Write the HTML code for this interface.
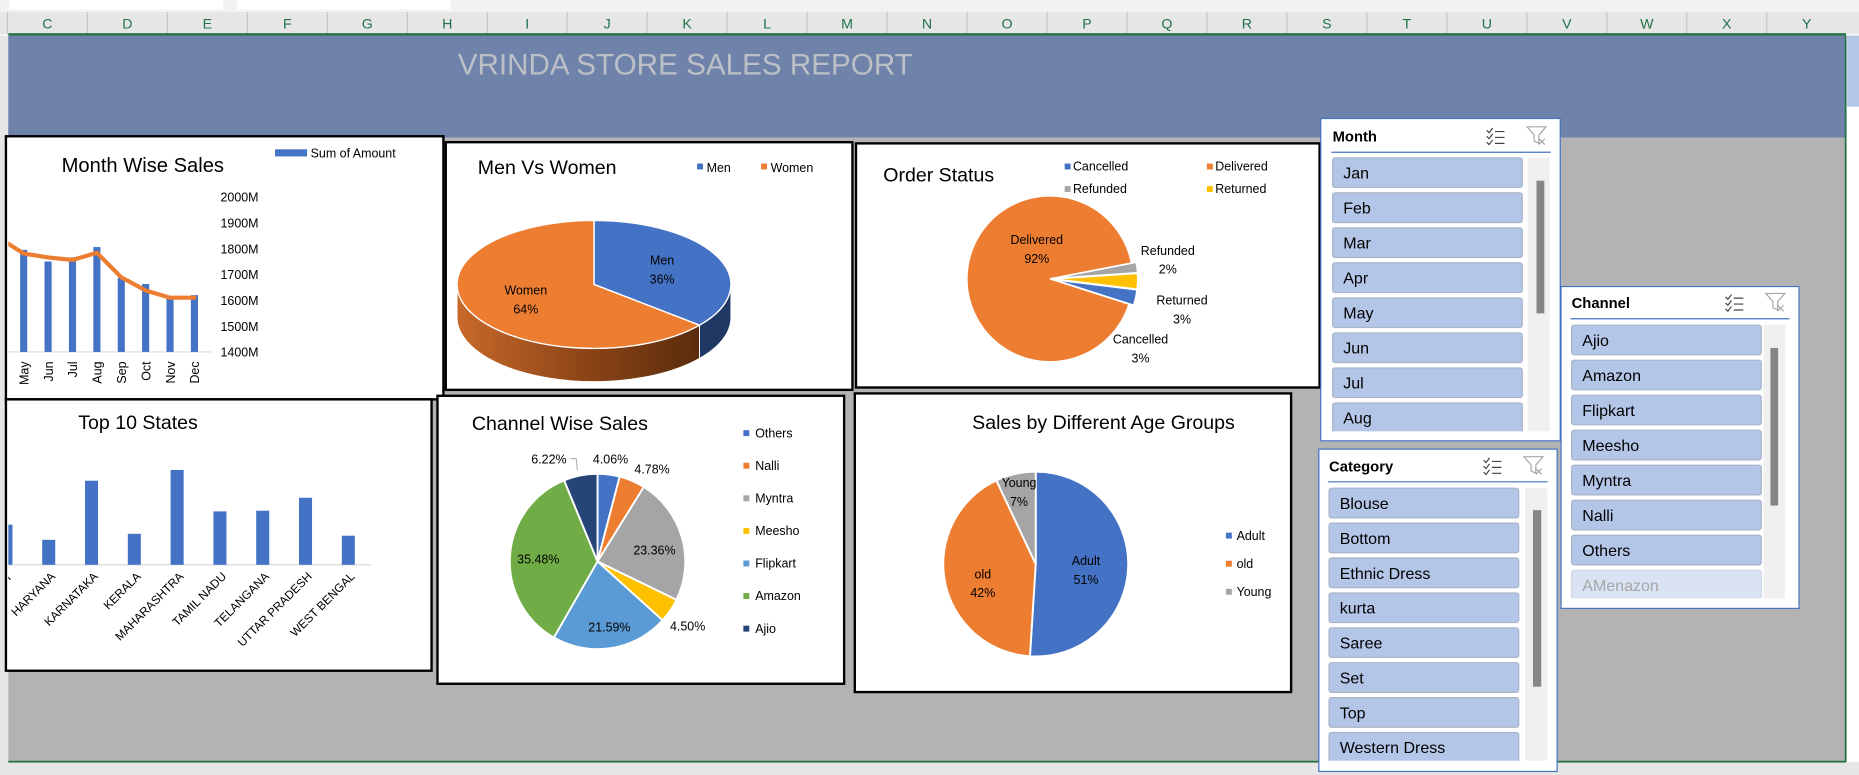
<!DOCTYPE html>
<html><head><meta charset="utf-8"><title>Vrinda Store Sales Report</title>
<style>
html,body{margin:0;padding:0;background:#fff;overflow:hidden}
svg{display:block}
text{font-family:"Liberation Sans",sans-serif}
</style></head>
<body>
<svg id="root" width="1859" height="775" viewBox="0 0 1568 654" preserveAspectRatio="none" xmlns="http://www.w3.org/2000/svg">
<defs>
<linearGradient id="womenSide" x1="0" x2="1" y1="0" y2="0">
<stop offset="0" stop-color="#c8692a"/><stop offset="0.55" stop-color="#8a4316"/><stop offset="1" stop-color="#5a2c0c"/>
</linearGradient>
<clipPath id="clipMonth"><rect x="7" y="117" width="366" height="219"/></clipPath>
<clipPath id="clipStates"><rect x="7" y="339" width="356" height="226"/></clipPath>
<clipPath id="clipSlMonth"><rect x="1114" y="132" width="202" height="232"/></clipPath>
<clipPath id="clipSlChannel"><rect x="1316" y="272" width="202" height="233"/></clipPath>
<clipPath id="clipSlCat"><rect x="1112" y="410" width="202" height="232"/></clipPath>
</defs>
<rect x="0" y="0" width="1568" height="10" fill="#f3f2f2"/>
<rect x="8" y="0" width="180" height="8" fill="#fff"/>
<rect x="200" y="0" width="180" height="8" fill="#fff"/>
<g id="colhdr"></g>
<rect x="0" y="30" width="7" height="613" fill="#e6e6e6"/>
<rect x="7" y="30" width="1550" height="613" fill="#b3b3b3"/>
<rect x="7" y="30" width="1550" height="86" fill="#6f83aa"/>
<text x="578" y="63" font-size="25" fill="#bcbfc6" text-anchor="middle">VRINDA STORE SALES REPORT</text>
<rect x="1556" y="30" width="1.5" height="613" fill="#217346"/>
<rect x="1558" y="30" width="10" height="60" fill="#b4c6e7"/>
<rect x="0" y="643" width="1568" height="11" fill="#e6e6e6"/>
<rect x="7" y="642" width="1550" height="1.5" fill="#217346"/>

<!-- chart boxes -->
<g>
<rect x="5" y="115" width="369" height="222" fill="#fff" stroke="#000" stroke-width="2"/>
<text x="52" y="145" font-size="17">Month Wise Sales</text>
<rect x="232" y="126" width="27" height="6" fill="#4472c4"/>
<text x="262" y="133" font-size="10.5">Sum of Amount</text>
<g id="monthChart" clip-path="url(#clipMonth)"></g>
<g id="monthAxis"></g>
</g>
<g>
<rect x="376" y="120" width="343" height="209" fill="#fff" stroke="#000" stroke-width="2"/>
<text x="403" y="147" font-size="16.5">Men Vs Women</text>
<rect x="588" y="138" width="5" height="5" fill="#4472c4"/><text x="596" y="145" font-size="10.5">Men</text>
<rect x="642" y="138" width="5" height="5" fill="#ed7d31"/><text x="650" y="145" font-size="10.5">Women</text>
<g id="genderChart"></g>
</g>
<g>
<rect x="722" y="121" width="391" height="206" fill="#fff" stroke="#000" stroke-width="2"/>
<text x="745" y="153" font-size="16.5">Order Status</text>
<g id="orderLegend"></g>
<g id="orderChart"></g>
</g>
<g>
<rect x="5" y="337" width="359" height="229" fill="#fff" stroke="#000" stroke-width="2"/>
<text x="66" y="362" font-size="16.5">Top 10 States</text>
<g id="statesChart" clip-path="url(#clipStates)"></g>
</g>
<g>
<rect x="369" y="334" width="343" height="243" fill="#fff" stroke="#000" stroke-width="2"/>
<text x="398" y="363" font-size="16.5">Channel Wise Sales</text>
<g id="channelChart"></g>
</g>
<g>
<rect x="721" y="332" width="368" height="252" fill="#fff" stroke="#000" stroke-width="2"/>
<text x="820" y="362" font-size="16.5">Sales by Different Age Groups</text>
<g id="ageChart"></g>
</g>
<g id="slicers"></g>
</svg>
<script>
// ---------- data ----------
var monthCats = ["Apr","May","Jun","Jul","Aug","Sep","Oct","Nov","Dec"];
var monthBars = [1810,1795,1750,1766,1806,1687,1663,1610,1620];
var monthLine = [1841,1781,1766,1756,1784,1689,1638,1610,1610];
var monthTicks = [1400,1500,1600,1700,1800,1900,2000];
var monthTickLabels = ["1400M","1500M","1600M","1700M","1800M","1900M","2000M"];

var genderCats = ["Men","Women"];
var genderVals = [36,64];

var orderCats = ["Cancelled","Delivered","Refunded","Returned"];
var orderVals = [3,92,2,3];

var stateCats = ["GUJARAT","HARYANA","KARNATAKA","KERALA","MAHARASHTRA","TAMIL NADU","TELANGANA","UTTAR PRADESH","WEST BENGAL"];
var stateVals = [1.27,0.79,2.66,0.98,3.00,1.69,1.71,2.12,0.92];

var channelCats = ["Others","Nalli","Myntra","Meesho","Flipkart","Amazon","Ajio"];
var channelVals = [4.06,4.78,23.36,4.50,21.59,35.48,6.22];

var ageCats = ["Adult","old","Young"];
var ageVals = [51,42,7];

var colNames = ["C","D","E","F","G","H","I","J","K","L","M","N","O","P","Q","R","S","T","U","V","W","X","Y"];
var monthItems = ["Jan","Feb","Mar","Apr","May","Jun","Jul","Aug"];
var channelItems = ["Ajio","Amazon","Flipkart","Meesho","Myntra","Nalli","Others","AMenazon"];
var categoryItems = ["Blouse","Bottom","Ethnic Dress","kurta","Saree","Set","Top","Western Dress"];

// ---------- helpers ----------
var NS="http://www.w3.org/2000/svg";
function mk(tag, attrs, parent){var e=document.createElementNS(NS,tag);for(var k in attrs)e.setAttribute(k,attrs[k]);parent.appendChild(e);return e;}
function txt(str, attrs, parent){var e=mk("text",attrs,parent);e.textContent=str;return e;}
function pt(cx,cy,rx,ry,a){var r=a*Math.PI/180;return [cx+rx*Math.sin(r),cy-ry*Math.cos(r)];}
function slicePath(cx,cy,rx,ry,a0,a1){var p0=pt(cx,cy,rx,ry,a0),p1=pt(cx,cy,rx,ry,a1);var lg=(a1-a0)>180?1:0;
 return "M"+cx+","+cy+" L"+p0[0]+","+p0[1]+" A"+rx+","+ry+" 0 "+lg+" 1 "+p1[0]+","+p1[1]+" Z";}
function sum(a){return a.reduce(function(s,v){return s+v;},0);}

// ---------- column header ----------
var ch=document.getElementById("colhdr");
var bg=mk("rect",{x:0,y:10,width:1568,height:19,fill:"#e6e6e6"},ch);


colNames.forEach(function(c,i){
 var cx=40+i*67.45;
 var s=mk("line",{x1:cx-33.7,x2:cx-33.7,y1:10,y2:29,stroke:"#c6c6c6","stroke-width":1},ch);
 
 
 var t=txt(c,{x:cx,y:24,"font-size":12,fill:"#217346","text-anchor":"middle"},ch);
 
 
});
var gl=mk("rect",{x:7,y:28,width:1550,height:2,fill:"#217346"},ch);



// ---------- month wise sales ----------
(function(){
 var g=document.getElementById("monthChart"), ax=document.getElementById("monthAxis");
 function x(i){return 20+(i-1)*20.57;}
 function y(v){return 297-(v-1400)*0.218;}
 monthTicks.forEach(function(v,i){
  var t=txt(monthTickLabels[i],{x:186,y:y(v)+4,"font-size":10.5,fill:"#000"},ax);
  
  
 });
 var base=mk("line",{x1:7,x2:178,y1:y(1400),y2:y(1400),stroke:"#d9d9d9","stroke-width":1},g);
 
 
 monthCats.forEach(function(m,i){
  var b=mk("rect",{x:x(i)-3,y:y(monthBars[i]),width:6,height:y(1400)-y(monthBars[i]),fill:"#4472c4"},g);
  
  
  var t=txt(m,{x:0,y:0,"font-size":10.5,"text-anchor":"end",transform:"translate("+(x(i)+4)+",305) rotate(-90)"},g);
  
  
 });
 var d=monthLine.map(function(v,i){return (i?"L":"M")+x(i)+","+y(v);}).join(" ");
 var l=mk("path",{d:d,fill:"none",stroke:"#ed7d31","stroke-width":3.5,"stroke-linejoin":"round","stroke-linecap":"round"},g);
 
 
})();

// ---------- men vs women 3D pie ----------
(function(){
 var g=document.getElementById("genderChart");
 var cx=501,cy=240,rx=115.5,ry=54,dep=28;
 var tot=sum(genderVals),cols=["#4472c4","#ed7d31"],side=["#1f3864","url(#womenSide)"];
 var a=0,angles=[];
 genderVals.forEach(function(v){angles.push([a,a+v/tot*360]);a+=v/tot*360;});
 // sides (visible between 90 and 270)
 angles.forEach(function(an,i){
  var s=Math.max(an[0],90),e=Math.min(an[1],270);
  if(e<=s)return;
  var p0=pt(cx,cy,rx,ry,s),p1=pt(cx,cy,rx,ry,e);
  var d="M"+p0[0]+","+p0[1]+" A"+rx+","+ry+" 0 0 1 "+p1[0]+","+p1[1]+" L"+p1[0]+","+(p1[1]+dep)+" A"+rx+","+ry+" 0 0 0 "+p0[0]+","+(p0[1]+dep)+" Z";
  var p=mk("path",{d:d,fill:side[i],stroke:"#fff","stroke-width":0.8},g);
  
  
 });
 angles.forEach(function(an,i){
  var p=mk("path",{d:slicePath(cx,cy,rx,ry,an[0],an[1]),fill:cols[i],stroke:"#fff","stroke-width":1.2},g);
  
  
  var mid=(an[0]+an[1])/2,q=pt(cx,cy,rx*0.55,ry*0.55,mid);
  var t1=txt(genderCats[i],{x:q[0],y:q[1]-4,"font-size":10.5,"text-anchor":"middle"},g);
  
  
  var t2=txt(genderVals[i]+"%",{x:q[0],y:q[1]+12,"font-size":10.5,"text-anchor":"middle"},g);
  
  
 });
})();

// ---------- order status pie ----------
(function(){
 var g=document.getElementById("orderChart"),lg=document.getElementById("orderLegend");
 var cx=885.6,cy=235.3,r=70,start=97,tot=sum(orderVals);
 var cols=["#4472c4","#ed7d31","#a5a5a5","#ffc000"];
 var legPos=[[898,138],[1018,138],[898,157],[1018,157]];
 var labPos=[[962,286],[874.5,202],[985,211],[997,253]];
 var a=start;
 orderCats.forEach(function(c,i){
  var sw=orderVals[i]/tot*360,mid=a+sw/2,off=orderVals[i]<10?4:0;
  var ox=off*Math.sin(mid*Math.PI/180),oy=-off*Math.cos(mid*Math.PI/180);
  var p=mk("path",{d:slicePath(cx+ox,cy+oy,r,r,a,a+sw),fill:cols[i],stroke:"#fff","stroke-width":1.2},g);
  
  
  var t1=txt(c,{x:labPos[i][0],y:labPos[i][1]+4,"font-size":10.5,"text-anchor":"middle"},g);
  
  
  var t2=txt(orderVals[i]+"%",{x:labPos[i][0],y:labPos[i][1]+20,"font-size":10.5,"text-anchor":"middle"},g);
  
  
  var s=mk("rect",{x:legPos[i][0],y:legPos[i][1],width:5,height:5,fill:cols[i]},lg);
  
  
  var lt=txt(c,{x:legPos[i][0]+7,y:legPos[i][1]+6,"font-size":10.5},lg);
  
  
  a+=sw;
 });
})();

// ---------- top 10 states ----------
(function(){
 var g=document.getElementById("statesChart");
 var base=476.6;
 function x(i){return 5+i*36.1;}
 function h(v){return v*26.67;}
 var l=mk("line",{x1:5,x2:313,y1:base,y2:base,stroke:"#d9d9d9","stroke-width":1},g);
 
 
 stateCats.forEach(function(c,i){
  var b=mk("rect",{x:x(i)-5.5,y:base-h(stateVals[i]),width:11,height:h(stateVals[i]),fill:"#4472c4"},g);
  
  
  var t=txt(c,{x:0,y:0,"font-size":10,"text-anchor":"end",transform:"translate("+(x(i)+6)+",487) rotate(-45)"},g);
  
  
 });
})();

// ---------- channel wise sales ----------
(function(){
 var g=document.getElementById("channelChart");
 var cx=504,cy=473.8,r=74,tot=sum(channelVals),a=0;
 var cols=["#4472c4","#ed7d31","#a5a5a5","#ffc000","#5b9bd5","#70ad47","#264478"];
 var labPos=[[515,387],[550,395.6],[552,464],[580,528],[514,529],[454,471.5],[463,387]];
 channelCats.forEach(function(c,i){
  var sw=channelVals[i]/tot*360;
  var p=mk("path",{d:slicePath(cx,cy,r,r,a,a+sw),fill:cols[i],stroke:"#fff","stroke-width":1.6},g);
  
  
  var t=txt(channelVals[i].toFixed(2)+"%",{x:labPos[i][0],y:labPos[i][1]+4,"font-size":10.5,"text-anchor":"middle"},g);
  
  
  var ly=367+i*27.5;
  var s=mk("rect",{x:627,y:ly-4,width:5,height:5,fill:cols[i]},g);
  
  
  var lt=txt(c,{x:637,y:ly+2,"font-size":10.5},g);
  
  
  a+=sw;
 });
 var ld=mk("path",{d:"M481,387 L486,387 L487,397",fill:"none",stroke:"#a6a6a6","stroke-width":0.8},g);
 
 
})();

// ---------- age groups ----------
(function(){
 var g=document.getElementById("ageChart");
 var cx=873.6,cy=476,r=78,tot=sum(ageVals),a=0;
 var cols=["#4472c4","#ed7d31","#a5a5a5"];
 var labPos=[[916,473],[829,484],[859.5,407]];
 ageCats.forEach(function(c,i){
  var sw=ageVals[i]/tot*360;
  var p=mk("path",{d:slicePath(cx,cy,r,r,a,a+sw),fill:cols[i],stroke:"#fff","stroke-width":1.6},g);
  
  
  var t1=txt(c,{x:labPos[i][0],y:labPos[i][1]+4,"font-size":10.5,"text-anchor":"middle"},g);
  
  
  var t2=txt(ageVals[i]+"%",{x:labPos[i][0],y:labPos[i][1]+20,"font-size":10.5,"text-anchor":"middle"},g);
  
  
  var ly=452.5+i*23.7;
  var s=mk("rect",{x:1034,y:ly-3,width:5,height:5,fill:cols[i]},g);
  
  
  var lt=txt(c,{x:1043,y:ly+3,"font-size":10.5},g);
  
  
  a+=sw;
 });
})();

// ---------- slicers ----------
function slicer(name,items,bx,by,bw,bh,titleY,lineY,btnX,btnW,firstTop,step,trk,thumb,clip,fadedIdx){
 var root=document.getElementById("slicers");
 var g=mk("g",{},root);
 
 
 mk("rect",{x:bx,y:by,width:bw,height:bh,fill:"#fff",stroke:"#4472c4","stroke-width":1},g);
 var t=txt(name,{x:btnX,y:titleY+4.5,"font-size":12.5,"font-weight":"bold"},g);
 
 
 var ms=mk("g",{transform:"translate("+(bx+bw-62)+","+(titleY-7)+")",stroke:"#444","stroke-width":1,fill:"none"},g);
 
 
 mk("path",{d:"M0,2 l2,2 l3,-4 M0,7 l2,2 l3,-4 M0,12 l2,2 l3,-4 M7,3 h8 M7,8 h8 M7,13 h8"},ms);
 var fl=mk("g",{transform:"translate("+(bx+bw-28)+","+(titleY-8)+")",fill:"none"},g);
 
 
 mk("path",{d:"M0,0 h16 l-6,7 v7 l-4,-2 v-5 Z",stroke:"#a6a6a6","stroke-width":1},fl);
 mk("path",{d:"M10,10 l5,5 M15,10 l-5,5",stroke:"#a6a6a6","stroke-width":1},fl);
 mk("line",{x1:btnX-1,x2:bx+bw-8,y1:lineY,y2:lineY,stroke:"#4472c4","stroke-width":1},g);
 var ig=mk("g",{"clip-path":"url(#"+clip+")"},g);
 items.forEach(function(it,i){
  var y=firstTop+i*step,f=(i===fadedIdx);
  var b=mk("rect",{x:btnX,y:y,width:btnW,height:25,rx:2,fill:f?"#dae3f3":"#b4c6e7",stroke:f?"#d0d7e5":"#a9b4c8","stroke-width":1},ig);
  
  
  var tt=txt(it,{x:btnX+9,y:y+17.5,"font-size":13.5,fill:f?"#a6a6a6":"#000"},ig);
  
  
 });
 var tr=mk("rect",{x:trk[0],y:trk[1],width:trk[2],height:trk[3],fill:"#f0f0f0"},g);
 
 
 var th=mk("rect",{x:thumb[0],y:thumb[1],width:thumb[2],height:thumb[3],fill:"#868686"},g);
 
 
}
slicer("Month",monthItems,1114,100,202,272,115,128.5,1124,160,133.2,29.55,[1288.6,133,18.6,231],[1296,152.5,6.6,112],"clipSlMonth",-1);
slicer("Channel",channelItems,1316.7,241.8,200.7,271.6,255.6,269,1325.6,160,274.4,29.55,[1487.4,274,18.3,231],[1493.3,293.6,6.5,133],"clipSlChannel",7);
slicer("Category",categoryItems,1112.4,379,201,272,393.4,406.6,1121,160,412,29.45,[1286.3,412,18.7,230],[1293,430.5,7,149],"clipSlCat",-1);
</script>
</body></html>
